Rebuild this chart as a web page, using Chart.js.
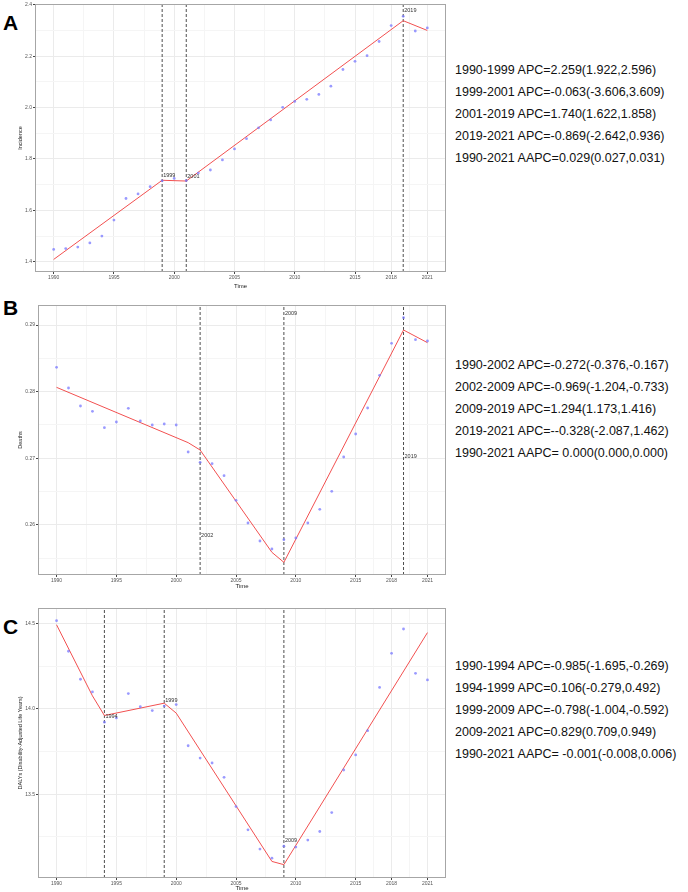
<!DOCTYPE html>
<html>
<head>
<meta charset="utf-8">
<script src="https://cdn.jsdelivr.net/npm/chart.js@4.4.0/dist/chart.umd.min.js"></script>
<style>
  body { margin: 0; background: #fff; width: 688px; height: 892px; position: relative; overflow: hidden; }
  canvas { position: absolute; left: 0; }
  .tag { position: absolute; left: 3px; font: bold 21px "Liberation Sans", Arial, sans-serif; color: #000; }
  .apc { position: absolute; left: 455px; font: 12.5px "Liberation Sans", Arial, sans-serif; line-height: 22px; color: #111; white-space: nowrap; }
</style>
</head>
<body>
<div class="tag" style="top:11px">A</div>
<div class="tag" style="top:296px">B</div>
<div class="tag" style="top:615px">C</div>
<canvas id="chartA" width="450" height="290" style="top:0"></canvas>
<canvas id="chartB" width="450" height="300" style="top:290px"></canvas>
<canvas id="chartC" width="450" height="302" style="top:590px"></canvas>
<div class="apc" id="textA" style="top:59px"></div>
<div class="apc" id="textB" style="top:354px"></div>
<div class="apc" id="textC" style="top:655px"></div>
<script>
// 연도
const years = [1990,1991,1992,1993,1994,1995,1996,1997,1998,1999,2000,2001,2002,2003,2004,2005,
               2006,2007,2008,2009,2010,2011,2012,2013,2014,2015,2016,2017,2018,2019,2020,2021];
const xTicks = [1990,1995,2000,2005,2010,2015,2018,2021];

// A: Incidence
const incidence = [1.448,1.451,1.457,1.473,1.500,1.562,1.646,1.664,1.692,1.715,1.724,1.716,1.745,1.757,1.796,1.839,
                   1.879,1.921,1.952,2.001,2.024,2.032,2.051,2.083,2.148,2.180,2.202,2.257,2.319,2.355,2.298,2.310];
const incidenceFitYears = [1990,1999,2001,2019,2021];
const incidenceFit = [1.409,1.717,1.714,2.338,2.300];
const incidenceJoin = [1999,2001,2019];
const incidenceJoinLabelY = [1.735,1.731,2.378];
const incidenceTicks = [1.4,1.6,1.8,2.0,2.2,2.4];
const incidenceText = [
  "1990-1999 APC=2.259(1.922,2.596)",
  "1999-2001 APC=-0.063(-3.606,3.609)",
  "2001-2019 APC=1.740(1.622,1.858)",
  "2019-2021 APC=-0.869(-2.642,0.936)",
  "1990-2021 AAPC=0.029(0.027,0.031)"
];

// B: Deaths
const deaths = [0.28365,0.28055,0.27785,0.27705,0.27460,0.27545,0.27750,0.27560,0.27500,0.27515,0.27500,0.27095,
                0.26940,0.26920,0.26740,0.26370,0.26030,0.25760,0.25640,0.25780,0.25805,0.26030,0.26235,0.26505,
                0.27020,0.27365,0.27755,0.28245,0.28725,0.29110,0.28780,0.28760];
const deathsFitYears = [1990,2001,2002,2008,2009,2019,2021];
const deathsFit = [0.28065,0.27235,0.27125,0.2559,0.2544,0.28925,0.28735];
const deathsJoin = [2002,2009,2019];
const deathsJoinLabelY = [0.2585,0.2918,0.27025];
const deathsTicks = [0.26,0.27,0.28,0.29];
const deathsText = [
  "1990-2002 APC=-0.272(-0.376,-0.167)",
  "2002-2009 APC=-0.969(-1.204,-0.733)",
  "2009-2019 APC=1.294(1.173,1.416)",
  "2019-2021 APC=--0.328(-2.087,1.462)",
  "1990-2021 AAPC= 0.000(0.000,0.000)"
];

// C: DALYs
const dalys = [14.516,14.337,14.173,14.099,13.922,13.947,14.089,14.012,13.990,14.016,14.025,13.784,13.712,13.683,
               13.599,13.428,13.292,13.179,13.126,13.196,13.191,13.232,13.282,13.393,13.642,13.730,13.872,14.125,
               14.325,14.467,14.208,14.169];
const dalysFitYears = [1990,1993,1994,1999,2000,2008,2009,2021];
const dalysFit = [14.492,14.076,13.961,14.033,13.975,13.107,13.088,14.446];
const dalysJoin = [1994,1999,2009];
const dalysJoinLabelY = [13.953,14.047,13.231];
const dalysTicks = [13.5,14.0,14.5];
const dalysText = [
  "1990-1994 APC=-0.985(-1.695,-0.269)",
  "1994-1999 APC=0.106(-0.279,0.492)",
  "1999-2009 APC=-0.798(-1.004,-0.592)",
  "2009-2021 APC=0.829(0.709,0.949)",
  "1990-2021 AAPC= -0.001(-0.008,0.006)"
];

function withMinor(major, min, max) {
  const all = major.slice();
  for (let i = 0; i < major.length - 1; i++) all.push((major[i] + major[i + 1]) / 2);
  const step0 = major[1] - major[0], stepN = major[major.length - 1] - major[major.length - 2];
  if (major[0] - step0 / 2 > min) all.push(major[0] - step0 / 2);
  if (major[major.length - 1] + stepN / 2 < max) all.push(major[major.length - 1] + stepN / 2);
  return all.sort((a, b) => a - b);
}

const boxPlugin = {
  id: 'box',
  afterDraw(chart) {
    const a = chart.chartArea, c = chart.ctx;
    c.save();
    c.strokeStyle = '#a6a6a6';
    c.lineWidth = 1;
    c.strokeRect(a.left + 0.5, a.top + 0.5, a.right - a.left - 1, a.bottom - a.top - 1);
    c.restore();
  }
};

const joinLabelPlugin = {
  id: 'joinLabels',
  afterDatasetsDraw(chart, args, opts) {
    const c = chart.ctx, xs = chart.scales.x, ys = chart.scales.y;
    c.save();
    c.font = '5.5px "Liberation Sans", Arial, sans-serif';
    c.fillStyle = '#333';
    c.textBaseline = 'middle';
    c.textAlign = 'left';
    opts.years.forEach((yr, i) => {
      c.fillText(String(yr), xs.getPixelForValue(yr) + 1, ys.getPixelForValue(opts.labelY[i]));
    });
    c.restore();
  }
};

function makeChart(id, cfg) {
  const xAll = withMinor(xTicks, cfg.xMin, cfg.xMax);
  const yAll = withMinor(cfg.yTicks, cfg.yMin, cfg.yMax);
  const xMajor = new Set(xTicks), yMajor = new Set(cfg.yTicks);

  const datasets = [];
  cfg.join.forEach(yr => {
    datasets.push({
      type: 'line',
      data: [{x: yr, y: cfg.yMin}, {x: yr, y: cfg.yMax}],
      borderColor: '#3a3a3a',
      borderWidth: 0.9,
      borderDash: [3, 2],
      pointRadius: 0,
      order: 3
    });
  });
  datasets.push({
    type: 'line',
    data: cfg.fitYears.map((yr, i) => ({x: yr, y: cfg.fit[i]})),
    borderColor: '#f25050',
    borderWidth: 1,
    pointRadius: 0,
    tension: 0,
    order: 2
  });
  datasets.push({
    type: 'scatter',
    data: years.map((yr, i) => ({x: yr, y: cfg.values[i]})),
    backgroundColor: 'rgba(120,120,255,0.75)',
    borderWidth: 0,
    pointRadius: 1.4,
    order: 1
  });

  return new Chart(document.getElementById(id), {
    type: 'line',
    data: { datasets: datasets },
    options: {
      responsive: false,
      animation: false,
      devicePixelRatio: 1,
      layout: { padding: { left: 16, right: 3, top: cfg.padTop, bottom: 0 } },
      plugins: {
        legend: { display: false },
        tooltip: { enabled: false },
        joinLabels: { years: cfg.join, labelY: cfg.labelY }
      },
      scales: {
        x: {
          type: 'linear',
          min: cfg.xMin,
          max: cfg.xMax,
          afterBuildTicks: s => { s.ticks = xAll.map(v => ({value: v})); },
          afterFit: s => { s.height = cfg.xHeight; },
          ticks: {
            autoSkip: false,
            maxRotation: 0,
            padding: 1,
            color: '#555',
            font: { size: 5, family: 'Liberation Sans' },
            callback: v => xMajor.has(v) ? String(v) : ''
          },
          grid: {
            color: c => xMajor.has(c.tick.value) ? '#ebebeb' : '#f5f5f5',
            tickColor: c => xMajor.has(c.tick.value) ? '#444' : 'rgba(0,0,0,0)',
            tickLength: 2
          },
          border: { display: false },
          title: { display: true, text: 'Time', color: '#222', font: { size: 6, family: 'Liberation Sans' }, padding: 0 }
        },
        y: {
          min: cfg.yMin,
          max: cfg.yMax,
          afterBuildTicks: s => { s.ticks = yAll.map(v => ({value: v})); },
          afterFit: s => { s.width = cfg.yWidth; },
          ticks: {
            autoSkip: false,
            padding: 1,
            color: '#555',
            font: { size: 5, family: 'Liberation Sans' },
            callback: v => yMajor.has(v) ? v.toFixed(cfg.decimals) : ''
          },
          grid: {
            color: c => yMajor.has(c.tick.value) ? '#ebebeb' : '#f5f5f5',
            tickColor: c => yMajor.has(c.tick.value) ? '#444' : 'rgba(0,0,0,0)',
            tickLength: 2
          },
          border: { display: false },
          title: { display: true, text: cfg.yTitle, color: '#222', font: { size: 5.5, family: 'Liberation Sans' }, padding: 1 }
        }
      }
    },
    plugins: [boxPlugin, joinLabelPlugin]
  });
}

makeChart('chartA', {
  values: incidence, fitYears: incidenceFitYears, fit: incidenceFit,
  join: incidenceJoin, labelY: incidenceJoinLabelY, yTicks: incidenceTicks,
  yMin: 1.36, yMax: 2.403, xMin: 1988.45, xMax: 2022.55, decimals: 1,
  yTitle: 'Incidence', padTop: 2, xHeight: 18, yWidth: 19
});
makeChart('chartB', {
  values: deaths, fitYears: deathsFitYears, fit: deathsFit,
  join: deathsJoin, labelY: deathsJoinLabelY, yTicks: deathsTicks,
  yMin: 0.2525, yMax: 0.293, xMin: 1988.45, xMax: 2022.55, decimals: 2,
  yTitle: 'Deaths', padTop: 15, xHeight: 15, yWidth: 22
});
makeChart('chartC', {
  values: dalys, fitYears: dalysFitYears, fit: dalysFit,
  join: dalysJoin, labelY: dalysJoinLabelY, yTicks: dalysTicks,
  yMin: 13.01, yMax: 14.59, xMin: 1988.45, xMax: 2022.55, decimals: 1,
  yTitle: 'DALYs (Disability-Adjusted Life Years)', padTop: 18, xHeight: 14, yWidth: 22
});

function fillText(id, lines) {
  document.getElementById(id).innerHTML = lines.map(t => `<div>${t}</div>`).join('');
}
fillText('textA', incidenceText);
fillText('textB', deathsText);
fillText('textC', dalysText);
</script>
</body>
</html>
